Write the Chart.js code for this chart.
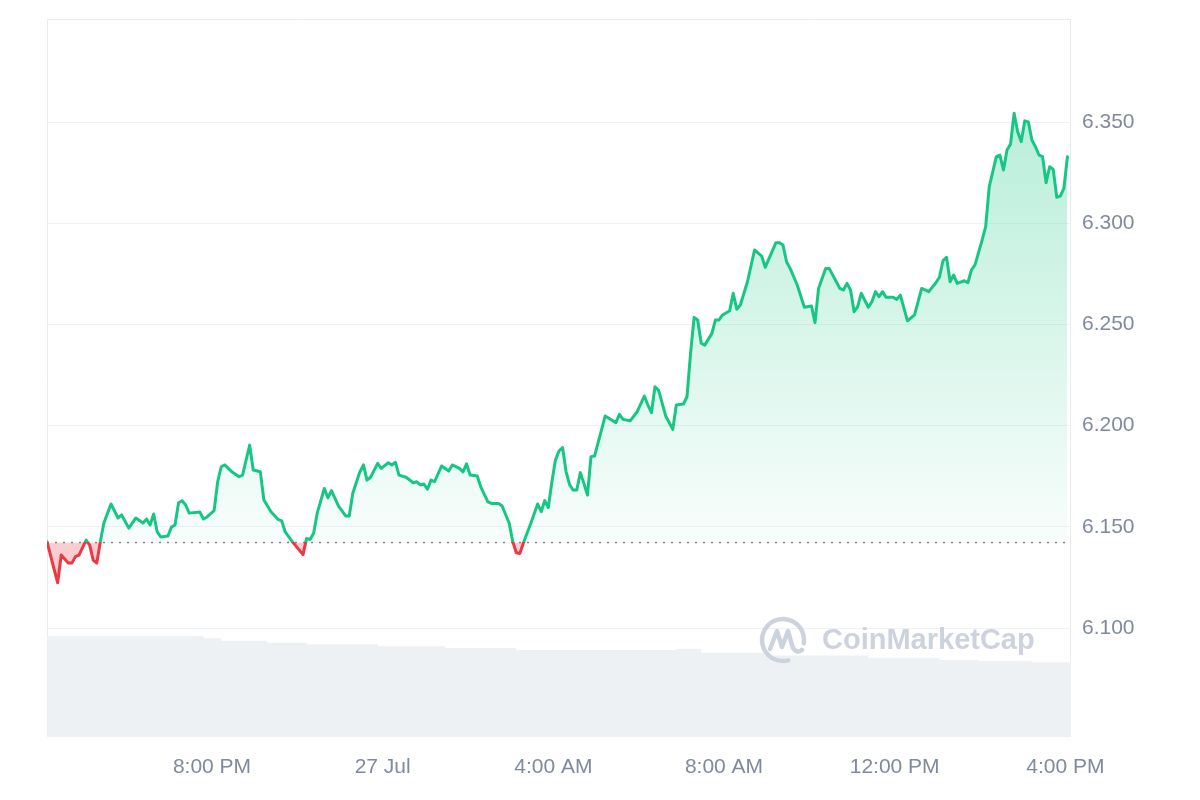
<!DOCTYPE html>
<html>
<head>
<meta charset="utf-8">
<script src="https://cdn.jsdelivr.net/npm/chart.js@4/dist/chart.umd.min.js"></script>
<style>
  html, body { margin: 0; padding: 0; background: #fff; }
  #wrap { width: 1200px; height: 800px; }
</style>
</head>
<body>
<div id="wrap"><canvas id="priceChart"></canvas></div>
<script>
// price samples: minutes after 16:08 on 26 Jul, and price in USD
const minutes = [
  0, 15, 20, 30, 35, 40, 45, 55, 60, 65,
  70, 75, 80, 90, 100, 105, 115, 125, 135, 140,
  145, 150, 155, 160, 170, 175, 180, 185, 190, 195,
  200, 215, 220, 225, 235, 240, 245, 250, 260, 270,
  275, 285, 290, 300, 305, 315, 325, 330, 335, 345,
  360, 365, 370, 375, 380, 390, 395, 400, 410, 420,
  425, 430, 440, 445, 450, 455, 465, 470, 480, 485,
  490, 495, 505, 515, 520, 525, 530, 535, 540, 545,
  555, 565, 570, 580, 585, 590, 595, 605, 610, 620,
  625, 635, 640, 650, 655, 660, 665, 670, 680, 690,
  695, 700, 705, 710, 715, 720, 725, 730, 735, 740,
  745, 750, 755, 760, 765, 770, 785, 800, 805, 810,
  820, 830, 840, 845, 850, 855, 860, 870, 880, 885,
  895, 900, 905, 910, 915, 920, 925, 935, 940, 945,
  950, 960, 965, 970, 975, 985, 995, 1005, 1010, 1025,
  1030, 1035, 1040, 1045, 1055, 1065, 1075, 1080, 1085, 1095,
  1100, 1115, 1120, 1125, 1130, 1135, 1140, 1145, 1155, 1160,
  1165, 1170, 1175, 1180, 1190, 1195, 1200, 1210, 1220, 1230,
  1240, 1250, 1255, 1260, 1265, 1270, 1275, 1280, 1290, 1295,
  1300, 1305, 1315, 1320, 1325, 1335, 1340, 1345, 1350, 1355,
  1360, 1365, 1370, 1375, 1380, 1385, 1390, 1395, 1400, 1405,
  1410, 1415, 1420, 1425, 1430, 1435
];
const prices = [
  6.1427, 6.1224, 6.1361, 6.1321, 6.1321, 6.1353, 6.1361, 6.1435, 6.1410, 6.1336,
  6.1321, 6.1427, 6.1519, 6.1613, 6.1544, 6.1559, 6.1494, 6.1544, 6.1519, 6.1539,
  6.1509, 6.1564, 6.1475, 6.1450, 6.1455, 6.1499, 6.1509, 6.1619, 6.1629, 6.1608,
  6.1568, 6.1573, 6.1539, 6.1549, 6.1580, 6.1723, 6.1797, 6.1806, 6.1772, 6.1748,
  6.1756, 6.1904, 6.1781, 6.1772, 6.1633, 6.1575, 6.1537, 6.1530, 6.1475, 6.1427,
  6.1363, 6.1443, 6.1438, 6.1470, 6.1568, 6.1690, 6.1644, 6.1679, 6.1603, 6.1554,
  6.1554, 6.1666, 6.1772, 6.1806, 6.1731, 6.1745, 6.1814, 6.1789, 6.1817, 6.1806,
  6.1819, 6.1756, 6.1745, 6.1718, 6.1723, 6.1707, 6.1712, 6.1686, 6.1731, 6.1723,
  6.1801, 6.1776, 6.1806, 6.1789, 6.1772, 6.1811, 6.1756, 6.1751, 6.1698, 6.1624,
  6.1616, 6.1616, 6.1603, 6.1518, 6.1427, 6.1372, 6.1369, 6.1422, 6.1514, 6.1613,
  6.1575, 6.1630, 6.1596, 6.1723, 6.1830, 6.1875, 6.1892, 6.1772, 6.1707, 6.1682,
  6.1682, 6.1768, 6.1715, 6.1657, 6.1847, 6.1850, 6.2048, 6.2015, 6.2056, 6.2031,
  6.2024, 6.2069, 6.2146, 6.2102, 6.2064, 6.2192, 6.2176, 6.2048, 6.1982, 6.2102,
  6.2107, 6.2143, 6.2357, 6.2535, 6.2522, 6.2407, 6.2398, 6.2456, 6.2522, 6.2522,
  6.2547, 6.2568, 6.2654, 6.2575, 6.2596, 6.2711, 6.2868, 6.2838, 6.2782, 6.2904,
  6.2904, 6.2892, 6.2810, 6.2777, 6.2695, 6.2585, 6.2591, 6.2509, 6.2678, 6.2777,
  6.2777, 6.2678, 6.2670, 6.2703, 6.2670, 6.2563, 6.2588, 6.2654, 6.2585, 6.2612,
  6.2662, 6.2637, 6.2662, 6.2634, 6.2634, 6.2624, 6.2645, 6.2518, 6.2547, 6.2678,
  6.2662, 6.2706, 6.2733, 6.2815, 6.2832, 6.2711, 6.2744, 6.2703, 6.2716, 6.2706,
  6.2769, 6.2794, 6.2917, 6.2983, 6.3180, 6.3329, 6.3337, 6.3263, 6.3362, 6.3391,
  6.3543, 6.3452, 6.3403, 6.3506, 6.3501, 6.3411, 6.3378, 6.3337, 6.3329, 6.3200,
  6.3279, 6.3266, 6.3128, 6.3134, 6.3172, 6.3329
];
const openPrice = 6.1423;

// rolling 24h volume (USD millions); each value holds from its start minute
const volMinutes = [0, 220, 245, 310, 365, 465, 560, 660, 885, 920, 1010, 1155, 1255, 1310, 1385, 1440];
const volumes = [140.7, 137.5, 134.1, 131.3, 129.1, 126.3, 124.0, 121.2, 123.0, 117.4, 113.5, 110.4, 107.2, 105.8, 104.0, 104.0];

const xTickHours = [-4, 0, 4, 8, 12, 16];
const xTickLabels = ['8:00 PM', '27 Jul', '4:00 AM', '8:00 AM', '12:00 PM', '4:00 PM'];
const yTicks = [6.10, 6.15, 6.20, 6.25, 6.30, 6.35];

const startHour = -7.8667; // 16:08 on 26 Jul, hours from midnight 27 Jul
const toHour = m => startHour + m / 60;

const GREEN = '#16c784';
const RED = '#ea3943';
const TEXT = '#808a9d';

Chart.defaults.font.family = '"Liberation Sans", Arial, sans-serif';
Chart.defaults.font.size = 21;
Chart.defaults.color = TEXT;

// line colour switches at the opening price
function lineColor(context) {
  const chart = context.chart;
  const area = chart.chartArea;
  if (!area) return GREEN;
  const py = chart.scales.y.getPixelForValue(openPrice);
  const f = Math.min(Math.max((py - area.top) / (area.bottom - area.top), 0), 1);
  const g = chart.ctx.createLinearGradient(0, area.top, 0, area.bottom);
  g.addColorStop(0, GREEN);
  g.addColorStop(f, GREEN);
  g.addColorStop(f, RED);
  g.addColorStop(1, RED);
  return g;
}

function fillColor(context) {
  const chart = context.chart;
  const area = chart.chartArea;
  if (!area) return 'rgba(22,199,132,0.2)';
  const py = chart.scales.y.getPixelForValue(openPrice);
  const g = chart.ctx.createLinearGradient(0, area.top, 0, py);
  g.addColorStop(0, 'rgba(22,199,132,0.36)');
  g.addColorStop(1, 'rgba(22,199,132,0.03)');
  return g;
}

const frame = {
  id: 'frame',
  beforeDatasetsDraw(chart) {
    const {ctx, chartArea: a} = chart;
    ctx.save();
    ctx.strokeStyle = '#e8ebef';
    ctx.lineWidth = 1;
    ctx.beginPath();
    ctx.moveTo(a.left + 0.5, a.bottom);
    ctx.lineTo(a.left + 0.5, a.top + 0.5);
    ctx.lineTo(a.right - 0.5, a.top + 0.5);
    ctx.lineTo(a.right - 0.5, a.bottom);
    ctx.stroke();
    ctx.restore();
  }
};

const watermark = {
  id: 'watermark',
  afterDatasetsDraw(chart) {
    const {ctx, chartArea: a} = chart;
    const cx = a.right - 288, cy = a.bottom - 97;
    ctx.save();
    ctx.strokeStyle = '#cdd3de';
    ctx.fillStyle = '#cdd3de';
    ctx.lineWidth = 4.5;
    ctx.lineCap = 'round';
    ctx.lineJoin = 'round';
    ctx.beginPath();
    ctx.arc(cx, cy, 21, 0.42 * Math.PI, 2.05 * Math.PI);
    ctx.stroke();
    ctx.beginPath();
    ctx.moveTo(cx - 13, cy + 9);
    ctx.lineTo(cx - 6, cy - 9);
    ctx.lineTo(cx - 1, cy + 7);
    ctx.lineTo(cx + 5, cy - 9);
    ctx.lineTo(cx + 10, cy + 8);
    ctx.quadraticCurveTo(cx + 14, cy + 14, cx + 19, cy + 10);
    ctx.stroke();
    ctx.font = 'bold 29px "Liberation Sans", Arial, sans-serif';
    ctx.textBaseline = 'middle';
    ctx.fillText('CoinMarketCap', cx + 39, cy + 1);
    ctx.restore();
  }
};

new Chart(document.getElementById('priceChart'), {
  type: 'line',
  data: {
    datasets: [
      {
        label: 'Price',
        data: minutes.map((m, i) => ({x: toHour(m), y: prices[i]})),
        borderColor: lineColor,
        backgroundColor: fillColor,
        borderWidth: 3,
        borderJoinStyle: 'round',
        borderCapStyle: 'round',
        pointRadius: 0,
        tension: 0,
        fill: {target: {value: openPrice}, below: 'rgba(234,57,67,0.25)'},
        yAxisID: 'y'
      },
      {
        label: 'Open',
        data: [{x: startHour, y: openPrice}, {x: startHour + 24, y: openPrice}],
        borderColor: '#7d8594',
        borderWidth: 1.5,
        borderDash: [2, 6],
        pointRadius: 0,
        fill: false,
        yAxisID: 'y'
      },
      {
        label: 'Volume',
        data: volMinutes.map((m, i) => ({x: toHour(m), y: volumes[i]})),
        stepped: 'before',
        borderWidth: 0,
        borderColor: 'rgba(0,0,0,0)',
        backgroundColor: '#eef1f4',
        pointRadius: 0,
        fill: 'origin',
        yAxisID: 'yVol'
      }
    ]
  },
  options: {
    responsive: true,
    maintainAspectRatio: false,
    animation: false,
    layout: {padding: {left: 47, top: 19, right: 0, bottom: 0}},
    plugins: {
      legend: {display: false},
      tooltip: {enabled: false}
    },
    scales: {
      x: {
        type: 'linear',
        min: startHour,
        max: startHour + 24,
        grid: {display: false, drawTicks: false},
        border: {display: false},
        afterBuildTicks: axis => { axis.ticks = xTickHours.map(v => ({value: v})); },
        afterFit: axis => { axis.height = 63; axis.paddingLeft = 0; axis.paddingRight = 0; },
        ticks: {
          padding: 18,
          maxRotation: 0,
          autoSkip: false,
          callback: v => xTickLabels[xTickHours.indexOf(v)]
        }
      },
      y: {
        type: 'linear',
        position: 'right',
        min: 6.0462,
        max: 6.4009,
        grid: {color: '#eff2f5', drawTicks: false},
        border: {display: false},
        afterBuildTicks: axis => { axis.ticks = yTicks.map(v => ({value: v})); },
        afterFit: axis => { axis.width = 129; axis.paddingTop = 0; axis.paddingBottom = 0; },
        ticks: {
          padding: 11,
          callback: v => v.toFixed(3)
        }
      },
      yVol: {
        type: 'linear',
        display: false,
        min: 0,
        max: 1000
      }
    }
  },
  plugins: [frame, watermark]
});
</script>
</body>
</html>
